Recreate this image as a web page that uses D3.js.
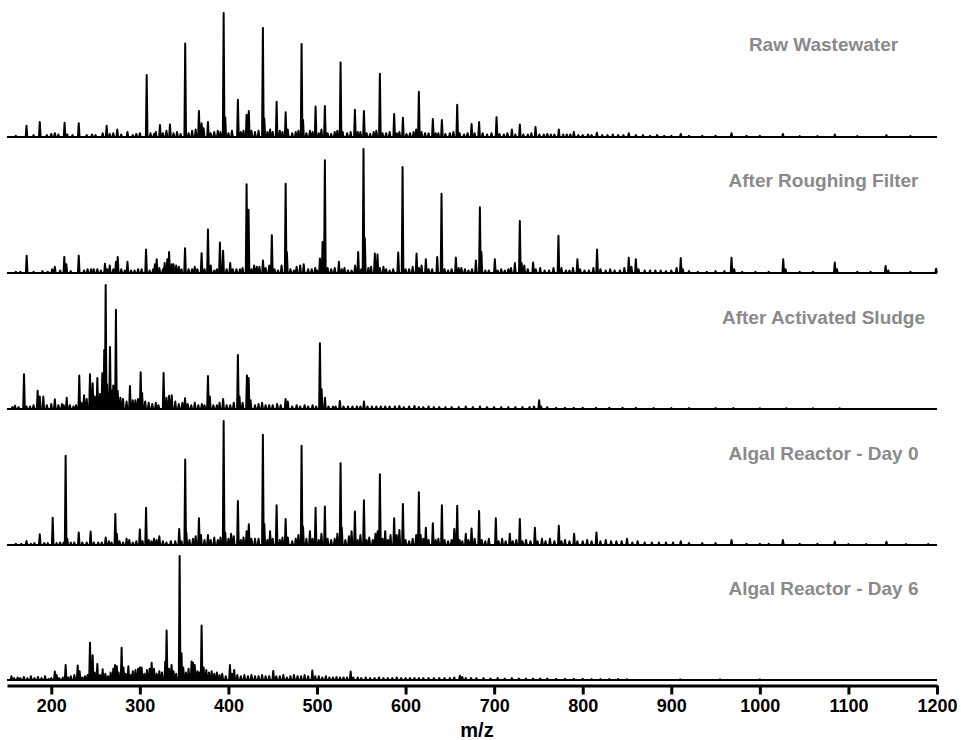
<!DOCTYPE html>
<html>
<head>
<meta charset="utf-8">
<script src="https://cdn.jsdelivr.net/npm/d3@7/dist/d3.min.js"></script>
<style>
  html, body { margin: 0; padding: 0; background: #fff; }
  svg { display: block; }
  .panel-label { font-family: Arial, "Liberation Sans", sans-serif; font-weight: bold; fill: #8a8a8a; }
</style>
</head>
<body>
<svg id="chart" width="961" height="740"></svg>
<script>
// Relative intensities (% of base peak) as [m/z, intensity] for each sample.
const rawWastewater = [[160,1],[172,9],[180,1.5],[187,12],[195,1.5],[200,2.5],[204,3],[208,2],[215,11.5],[218,2],[224,1.5],[231,11],[240,1.5],[246,2],[250,1.5],[258,3],[262.5,9],[266,2.5],[270,3],[274.5,6],[279,2],[286,4],[292,1.5],[296,2.5],[300,3],[307.7,50],[312,3],[316,2.5],[318,4],[322.7,9.7],[326,3],[330,5],[334,10],[338,3],[342,4],[346,2.5],[351.2,75.5],[355,3],[359,5],[363,6],[366.7,21],[369.7,11],[372,7],[376.9,12],[380,3],[384,4],[388,5],[391,4],[394.6,100],[396.4,16],[400,3],[404,5],[410.7,30],[414,4],[417,5],[420.5,18],[423,21],[426,5],[430,4],[434,5],[438.9,88],[440.5,15],[444,4],[447,6],[450,4],[454.4,28.5],[458,5],[461,4],[464.6,20],[467,6],[472,3],[476,4],[479,5],[482.6,75],[484.2,14],[488,3],[492,5],[495,4],[498.4,24.5],[502,3],[505,6],[508.9,25],[512,3],[516,2.5],[520,4],[523,5],[526.6,60],[529,4],[534,3],[538,4],[542.8,22],[546,4],[549,4],[553,21],[556,3],[560,2.5],[564,4],[567,5],[571,51],[574,3],[578,3],[582,4],[587.1,18.5],[590,3],[593,4],[597,15.6],[601,2.5],[605,3],[609,4],[612,6],[615,36.5],[618,4],[622,3],[626,3],[630.8,14.5],[634,3],[637,3],[641,13.7],[645,2.5],[650,3],[654,4],[658.3,26],[661,3],[666,2],[670,3],[674.5,10.5],[678,3],[683,12],[687,3],[692,2],[697,3],[702.7,16],[706,2.5],[711,2],[715,3],[720,6],[724,2],[729,10],[733,2],[738,2],[742,3],[746.7,8],[751,2],[756,2],[760,2.5],[764,2],[768,2],[773,6],[778,2],[782,2],[786,2],[790,4],[795,1.5],[800,1.5],[806,2],[810,1.5],[816,3.5],[822,1.5],[828,1.5],[834,2],[840,1.5],[846,1.5],[852,3],[860,1.5],[868,1.5],[876,1],[884,1.5],[892,1],[900,1],[910.7,2.5],[920,1],[935,1],[950,1],[968,3],[985,1],[1000,1],[1026,2.5],[1045,0.8],[1065,0.8],[1084.6,2],[1110,0.8],[1142.9,1.5],[1170,0.8]];

const roughingFilter = [[160,1],[165,1],[172.2,14],[180,1],[190,1.5],[196,1],[201,3],[204,5],[210,2],[214.7,13],[217,7],[222,1.5],[231,14],[237,2],[241,3],[245,3],[248,3],[252,3],[256,2],[260.6,7.5],[263,3],[266,6],[270,3],[273,9],[275,13],[279,3],[283,2],[286,9],[290,2],[294,2],[298,3],[302,3],[307,19],[311,2],[315,3],[317,7],[319,11],[322,4],[326,3],[328,8],[331,11],[333,17],[336,7],[338,7],[341,6],[344,5],[347,3],[351,20],[355,3],[359,3],[362,5],[365,3],[369.7,16],[373,3],[376.9,35],[380,6],[384,2],[387,3],[390.4,24.5],[394,18],[398,3],[402,8],[405,3],[409,3],[413,3],[416,4],[420.5,71.6],[422.7,51],[426,3],[429,6],[432,5],[435,5],[439,10],[442,4],[446,6],[449,30.5],[452,3],[456,2],[460,6],[464.6,72],[466,17],[470,3],[474,2],[477,5],[481,6],[485,7],[490,3],[494,3],[498,4],[500,2],[503.3,11.6],[506.3,25],[508.9,91],[512,4],[516,3],[520,4],[524.7,9],[528,3],[531,4],[535,2],[539,2],[543,6],[546.5,17],[550,3],[552.5,100],[554,28],[558,4],[561,5],[565.3,15.7],[568.3,15],[571,4],[575,5],[578,3],[582,2],[586,3],[591.7,16.5],[596.6,85.4],[600,3],[604,3],[608,5],[612.4,15.7],[615,4],[618,6],[622.9,11],[626,3],[630,3],[635.7,13],[640.6,64],[644,3],[648,2],[652,3],[656.8,12.4],[660,4],[663,4],[667,3],[671,2],[675,3],[679.4,10],[683.9,53],[685.6,17],[690,2],[694,2],[700.8,11],[704,2],[708,3],[712,2],[716,3],[719,4],[723.4,8],[729,42],[731,8],[734,6],[738,3],[744,8.4],[747,3],[752,4],[757,2],[762,2],[767,4],[772.6,30],[776,4],[781,2],[785,2],[789,4],[794,11],[797,3],[802,2],[807,2],[812,4],[816.2,19],[820,3],[826,2],[831,3],[836,2],[842,2],[847,4],[852,12.4],[855,5],[860,11],[863,3],[870,2],[876,2],[882,2],[888,2],[894,1.5],[900,2],[906,4],[910.7,12],[913,3],[920,1.5],[930,1],[940,1],[950,1.5],[960,1.5],[968,12.4],[971,3],[980,1],[995,1],[1010,1],[1026.4,11],[1029,3],[1045,1],[1060,1],[1084.6,8.4],[1087,3],[1110,1],[1125,1],[1142,5.7],[1145,2],[1170,1],[1199,3.5]];

const activatedSludge = [[156,1.5],[159,2.7],[163,1.5],[169.2,28],[172,2],[176,2],[180,3],[184.6,14.8],[187,10],[191,10],[195,3],[200,4],[204,7.8],[208,3],[212,4],[214,3],[217.4,9],[221,3],[225,2],[228,3],[231.6,27],[234,5],[237,11],[240,8],[243.7,28],[246.7,20.7],[249,10],[252,25],[255,12],[257.6,28.8],[259.8,47.6],[261.4,100],[263,20],[266.3,50],[268,15],[270,19],[273,80],[275,14.5],[278,9],[281,8],[285,6],[288.8,18.5],[292,7],[295,7],[298,8],[300.9,29.6],[302.5,13],[306,6],[310,5],[314,4],[318,5],[321,3],[326.8,29],[330,9],[333,10.7],[336,11],[340,6],[344,4],[348,5],[351,8.6],[354,4],[358,3],[362,5],[366,3],[370,4],[373,3],[376.9,26.6],[379,10],[383,3],[387,3],[390,5],[394,8],[398,3],[402,3],[406,5],[410.7,43.5],[412.5,10],[416,5],[420.9,27],[422.8,25],[425,7],[430,3],[434,4],[438,5],[442,3],[446,3],[450,3],[455,4],[459,3],[464.5,8],[467,6],[472,2],[477,3],[481,2],[486,3],[490,2],[495,3],[499,2],[503.3,53],[505.2,16],[509,9],[513,2],[518,2],[521,2],[525.8,6.5],[530,2],[535,2],[540,2],[545,2],[549,2],[553,6],[557,2],[562,2],[567,2],[572,2],[577,2],[582,2],[588,2],[593,2.5],[598,1.5],[604,2],[610,2.5],[615,1.5],[620,1.5],[626,2],[632,1.5],[638,1.5],[645,1.5],[652,1.5],[660,1.5],[668,2],[676,1.5],[684,2],[692,1.5],[700,1.5],[708,1.5],[716,1.5],[724,1.5],[732,1.5],[740,1.5],[745,2],[750.8,7],[753,2],[760,1.5],[770,1],[780,1],[790,1],[800,1],[815,1],[830,1],[845,1],[860,1],[880,0.8],[900,0.8],[920,0.8],[950,0.8],[970,0.8],[1000,0.6],[1030,0.6],[1060,0.6],[1090,0.6]];

const algalDay0 = [[160,1],[166,1],[172,3.2],[177,1],[181,1.5],[187,8.6],[192,1.5],[196,1.5],[201.6,22],[206,1.5],[210,2],[214,2],[216.2,72],[218,5],[222,2],[226,2],[231,10],[235,2],[240,2],[244.4,10.8],[248,2],[253,2],[257,2],[261.4,6],[265,3],[268,2],[272.3,25],[274,9],[277,3],[281,2],[285,5],[288,4],[292,2],[296,3],[300,12.6],[303,3],[307,30],[310,4],[313,3],[316,5],[319,4],[322,7],[326,3],[330,2],[335,3],[340,3],[344.4,13],[347,3],[351.2,69],[352.5,10],[356,4],[360,5],[363,7],[366.7,21.5],[369,8],[373,4],[376.9,8],[380,4],[384,6],[388,4],[391,6],[394.6,100],[396.4,10],[400,5],[403,9],[406,7],[410.7,35.5],[414,4],[417,6],[420.5,11],[423,16.7],[426,5],[430,5],[434,5],[438.9,89],[440.5,17],[444,4],[447,11],[450,5],[454.4,32],[458,4],[461,6],[464.6,21],[467,6],[472,3],[476,5],[479,8],[482.6,80],[484.2,15],[488,5],[492,11],[495,5],[498.4,30],[502,4],[505,9],[508.9,31],[512,5],[516,4],[520,5],[523,9],[526.6,66],[528,14],[532,4],[536,7],[539,11],[542.8,27],[546,4],[549,8],[553,36],[556,4],[559,6],[563,4],[566,9],[568.5,11],[571,57],[574,5],[577,11],[580,4],[583,8],[587.1,21.5],[590,8],[593,12],[597,33],[600,4],[604,3],[608,5],[612,8],[615,42.5],[617,8],[620,5],[622.9,14],[626,4],[630.8,17.5],[634,4],[637,5],[641,32],[644,4],[648,3],[652,4],[655,13],[658.3,31.7],[661,4],[664,3],[668,9],[671,4],[674.5,13.4],[678,5],[683,27.4],[686,4],[690,3],[694,5],[701.9,21.5],[705,3],[709,5],[713,3],[717.7,9],[721,3],[725,4],[729,21],[732,3],[736,4],[741,3],[746,14],[749,3],[754,5],[758,3],[763,5],[768,3],[773,15.6],[776,3],[780,4],[785,3],[790.3,9],[794,3],[800,3],[805,4],[810,3],[815.5,10],[820,3],[826,4],[832,3],[838,3],[844,3],[850,5],[856,2],[862,3],[870,2],[878,2],[886,2],[894,2],[902,2],[910.7,3],[920,1.5],[935,1.5],[950,1.5],[968,4],[985,1],[1000,1],[1010,1],[1026,4],[1045,1],[1065,1],[1084.6,2.7],[1100,0.8],[1120,0.8],[1142.9,2.7],[1165,0.8],[1190,0.8]];

const algalDay6 = [[155,3],[158,1.5],[162,2],[165,1.5],[169,2.5],[173,1.5],[177,3],[181,1.5],[185,2.5],[189,1.5],[193,3],[197,1],[200,1.5],[204,6.8],[206,4],[209,1.5],[213,2],[216.2,12],[219,2],[222,3],[226,4],[229.8,11.6],[232,7],[235,2],[238,3],[241,4],[243.7,30],[246.7,20],[249,6],[252,13],[255,4],[258,8.6],[261,5],[264,3],[267,6],[270,9],[272,12],[274,11],[276,6],[279.4,26],[281.5,10],[284,5],[287,11],[290,4],[292,7],[295,8],[298,9],[300,10],[302,10],[305,5],[308,8],[311,9],[313.3,14],[316,9],[319,5],[322,7],[325,6],[328.7,15],[330.2,40],[333,9],[335.8,12],[338,7],[341,5],[344.9,100],[347,21.6],[349,10],[352,6],[355,9],[358.4,15],[360,14],[362,12],[365,7],[367,6],[369.7,44],[372,10],[375,8],[378,6],[381,7],[384,5],[387,6],[390,4],[393,5],[397,3],[401.7,12],[404,5],[406.5,8],[410,4],[414,3],[418,4],[422,3],[426,4],[430,3],[434,3],[438,4],[442,3],[446,3],[450.6,7.3],[454,3],[458,3],[462,4],[466,2],[470,3],[474,4],[478,3],[482,3],[486,4],[490,3],[494.7,7.6],[498,3],[502,3],[506,2],[510,3],[514,2],[518,2],[522,2.5],[526,2],[530,2],[534,2],[538,6.8],[541,2],[546,2],[550,1.5],[555,2],[560,1.5],[565,1.5],[570,2],[575,1.5],[580,1.5],[585,1.5],[590,2],[595,1.5],[600,1.5],[605,1.5],[610,1.5],[615,1.5],[620,1.5],[626,1.5],[632,1.5],[638,1.5],[644,1.5],[650,1.5],[655,2],[661.3,3.5],[664,2.5],[668,1.5],[674,1.5],[680,1.5],[688,1.5],[696,1.2],[704,1.5],[712,1.2],[720,1.5],[728,1.2],[736,1.2],[744,1.2],[752,1.2],[760,1.2],[770,1],[780,1],[790,1],[800,1],[810,0.8],[820,0.8],[830,0.8],[840,0.8],[850,0.6],[910,0.5],[955,0.5],[1000,0.5]];

const panelLabels = ["Raw Wastewater", "After Roughing Filter", "After Activated Sludge", "Algal Reactor - Day 0", "Algal Reactor - Day 6"];
const spectra = [rawWastewater, roughingFilter, activatedSludge, algalDay0, algalDay6];
const mzTicks = [200, 300, 400, 500, 600, 700, 800, 900, 1000, 1100, 1200];
const mzDomain = [150, 1200];

// Layout
const svg = d3.select("#chart");
const baselines = [137, 273, 409, 545, 680];
const peakHeight = 124;
const axisY = 685.5;
const fontStack = "Arial, 'Liberation Sans', sans-serif";

const x = d3.scaleLinear().domain(mzDomain).range([7, 937]);

// Each centroid becomes a narrow spike rising from the baseline
const halfWidth = 0.9;
function spikePoints(peaks) {
  const pts = [[mzDomain[0], 0]];
  peaks.slice().sort((a, b) => a[0] - b[0]).forEach(([mz, v]) => {
    pts.push([mz - halfWidth, 0], [mz, v], [mz + halfWidth, 0]);
  });
  pts.push([mzDomain[1], 0]);
  return pts;
}

spectra.forEach((peaks, i) => {
  const y = d3.scaleLinear().domain([0, 100]).range([baselines[i], baselines[i] - peakHeight]);
  const g = svg.append("g").attr("class", "spectrum");

  g.append("path")
    .datum(spikePoints(peaks))
    .attr("fill", "none")
    .attr("stroke", "#000")
    .attr("stroke-width", 2)
    .attr("stroke-linejoin", "round")
    .attr("d", d3.line().x(d => x(d[0])).y(d => y(d[1])));

  // baseline trace
  g.append("line")
    .attr("x1", x(mzDomain[0])).attr("x2", x(mzDomain[1]))
    .attr("y1", y(0)).attr("y2", y(0))
    .attr("stroke", "#000").attr("stroke-width", 2);

  svg.append("text")
    .attr("class", "panel-label")
    .attr("x", 823.5)
    .attr("y", [51, 187, 323.5, 460, 595][i])
    .attr("text-anchor", "middle")
    .attr("font-size", 19)
    .text(panelLabels[i]);
});

// m/z axis
const axis = d3.axisBottom(x)
  .tickValues(mzTicks)
  .tickFormat(d3.format("d"))
  .tickSizeInner(9)
  .tickSizeOuter(0)
  .tickPadding(5);

const ag = svg.append("g")
  .attr("class", "axis")
  .attr("transform", `translate(0,${axisY})`)
  .call(axis);
ag.attr("font-family", fontStack).attr("font-size", 18).attr("font-weight", "bold");
ag.select(".domain").attr("stroke", "#000").attr("stroke-width", 3);
ag.selectAll(".tick line").attr("stroke", "#000").attr("stroke-width", 3);
ag.selectAll(".tick text")
  .attr("fill", "#000")
  .attr("font-family", fontStack)
  .attr("font-weight", "bold")
  .attr("font-size", 18);

svg.append("text")
  .attr("x", 477)
  .attr("y", 737)
  .attr("text-anchor", "middle")
  .attr("font-family", fontStack)
  .attr("font-weight", "bold")
  .attr("font-size", 20)
  .text("m/z");
</script>
</body>
</html>
